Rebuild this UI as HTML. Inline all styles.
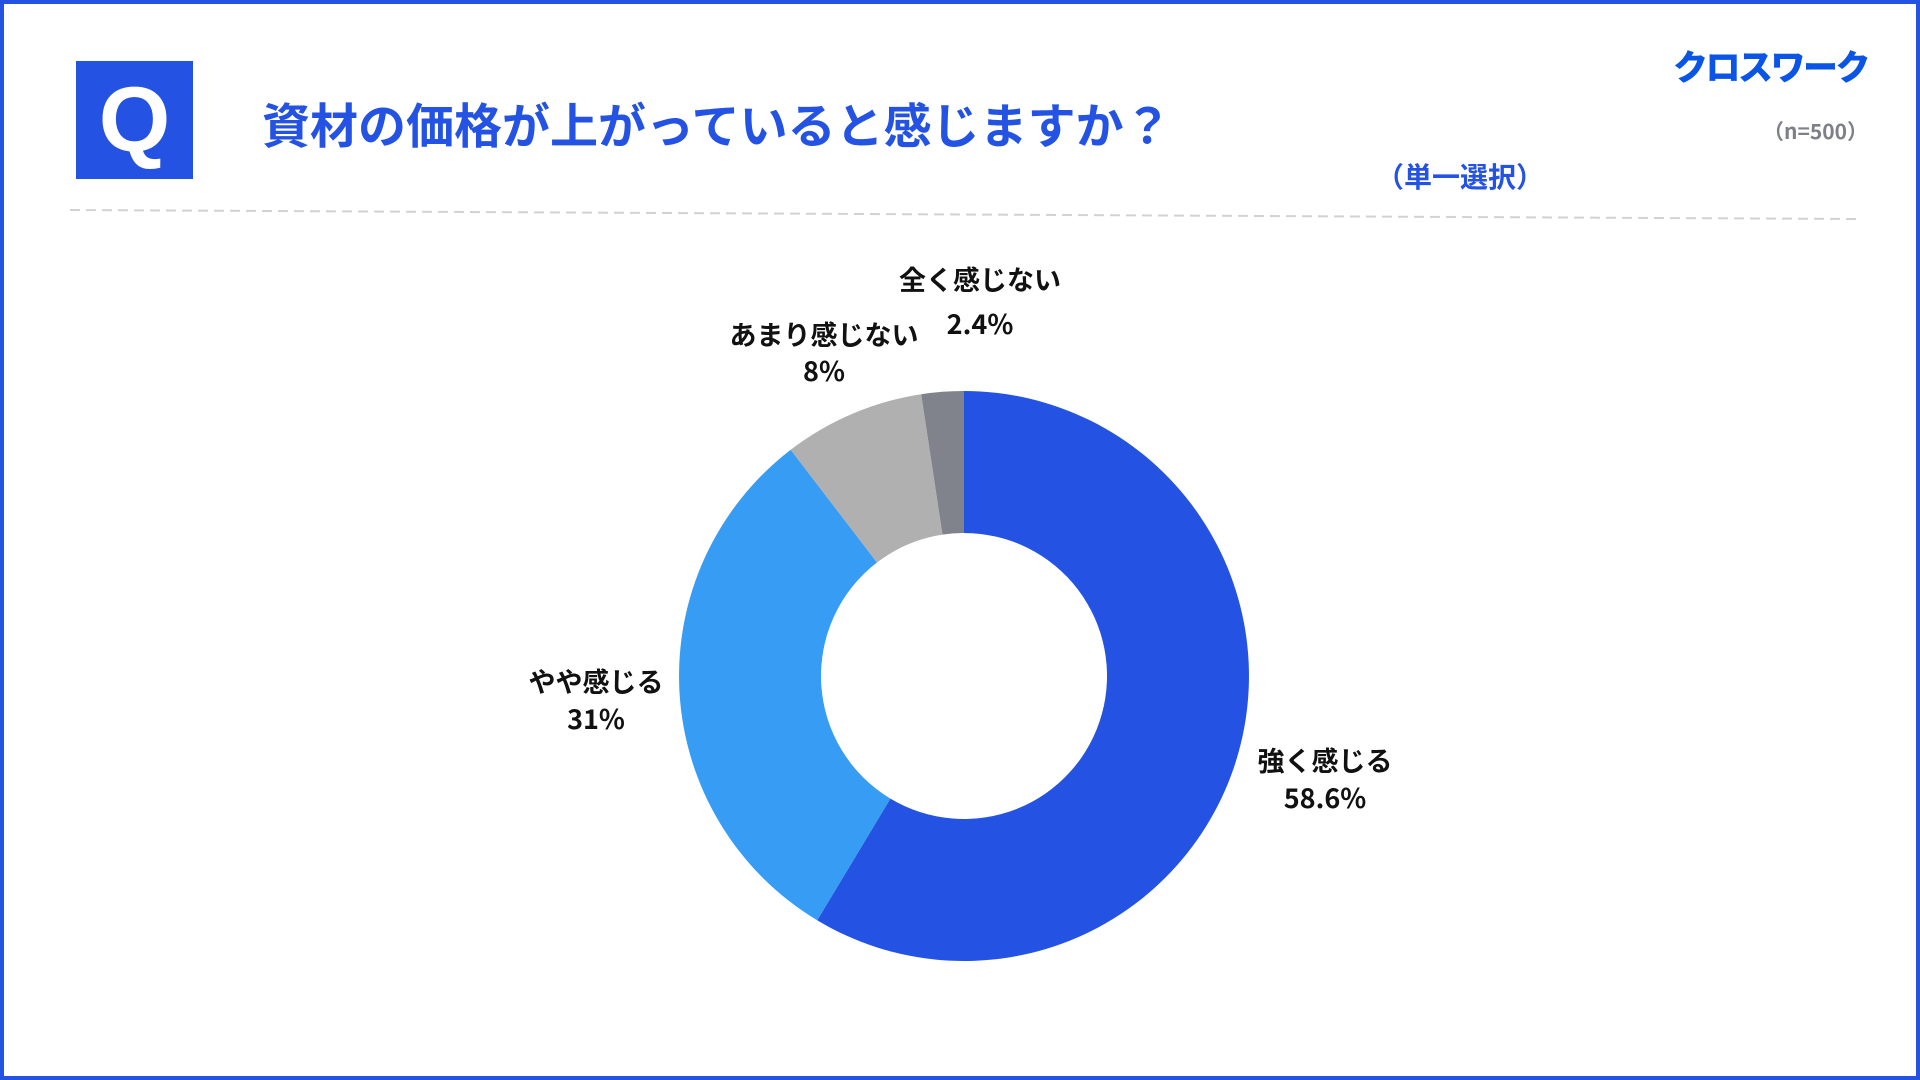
<!DOCTYPE html>
<html><head><meta charset="utf-8"><style>
html,body{margin:0;padding:0}
body{width:1920px;height:1080px;position:relative;background:#fff;overflow:hidden;font-family:"Liberation Sans","Noto Sans CJK JP",sans-serif}
.frame{position:absolute;left:0;top:0;width:1912px;height:1072px;border:4px solid #2453e3}
.q{position:absolute;left:76px;top:61px;width:117px;height:118px;background:#2453e3;color:#fff;font:bold 92px "Liberation Sans",sans-serif;text-align:center;line-height:118px}
.t{position:absolute;font-weight:bold;white-space:nowrap}
.lbl{position:absolute;font-weight:bold;font-size:27px;color:#111;text-align:center;white-space:nowrap;transform:translate(-50%,-50%);font-family:"Noto Sans CJK JP",sans-serif;line-height:34px}
</style></head><body>
<div class="frame"></div>
<div class="q">Q</div>
<div class="t" style="left:262px;top:93px;font-size:48px;color:#2453e3;font-family:'Noto Sans CJK JP',sans-serif;line-height:58px">資材の価格が上がっていると感じますか？</div>
<div class="t" style="left:1376px;top:158px;font-size:28px;color:#2453e3;font-family:'Noto Sans CJK JP',sans-serif;line-height:36px">（単一選択）</div>
<div class="t" style="left:1673px;top:43px;font-size:35px;color:#0a55e6;font-weight:900;font-family:'Noto Sans CJK JP',sans-serif;line-height:46px;letter-spacing:-2.5px">クロスワーク</div>
<div class="t" style="left:1763px;top:116px;font-size:21px;color:#7d8089;font-family:'Noto Sans CJK JP',sans-serif;line-height:30px">（n=500）</div>
<svg width="1920" height="1080" style="position:absolute;left:0;top:0">
<line x1="70" y1="210" x2="1856" y2="219" stroke="#d2d2d2" stroke-width="2" stroke-dasharray="10,6"/>
<path d="M964,391 A285,285 0 1 1 817.2,920.3 L890.4,798.6 A143,143 0 1 0 964,533 Z" fill="#2453e3"/>
<path d="M817.2,920.3 A285,285 0 0 1 790.7,449.8 L877,562.5 A143,143 0 0 0 890.4,798.6 Z" fill="#379cf3"/>
<path d="M790.7,449.8 A285,285 0 0 1 921.2,394.2 L942.5,534.6 A143,143 0 0 0 877,562.5 Z" fill="#b1b0b1"/>
<path d="M921.2,394.2 A285,285 0 0 1 964,391 L964,533 A143,143 0 0 0 942.5,534.6 Z" fill="#80838b"/>
</svg>
<div class="lbl" style="left:1325px;top:760px">強く感じる</div>
<div class="lbl" style="left:1325px;top:797px">58.6%</div>
<div class="lbl" style="left:596px;top:681px">やや感じる</div>
<div class="lbl" style="left:596px;top:718px">31%</div>
<div class="lbl" style="left:824px;top:334px">あまり感じない</div>
<div class="lbl" style="left:824px;top:370px">8%</div>
<div class="lbl" style="left:980px;top:279px">全く感じない</div>
<div class="lbl" style="left:980px;top:323px">2.4%</div>
</body></html>
